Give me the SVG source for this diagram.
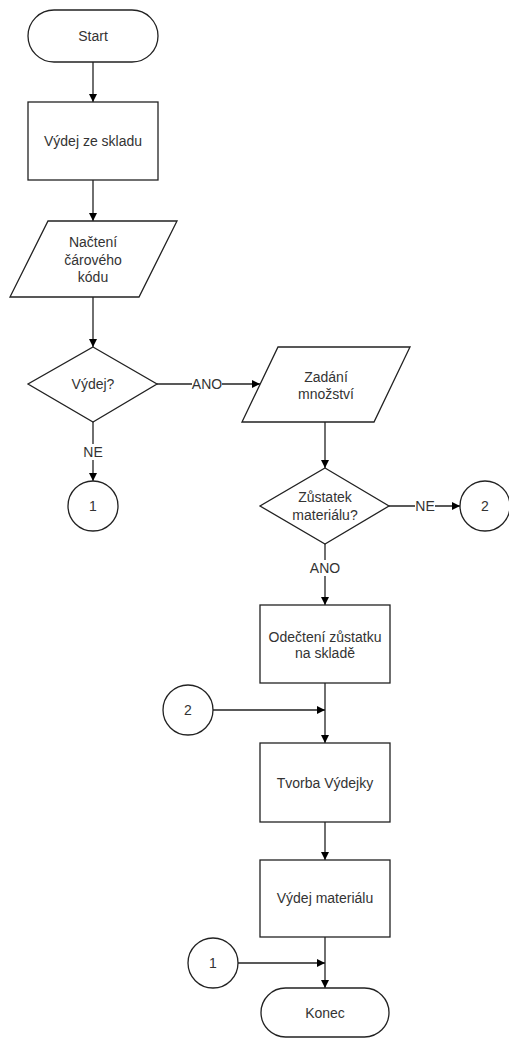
<svg xmlns="http://www.w3.org/2000/svg" width="509" height="1039" viewBox="0 0 509 1039">
<defs>
<marker id="arr" viewBox="0 0 10 10" refX="10" refY="5" markerWidth="9" markerHeight="8" markerUnits="userSpaceOnUse" orient="auto">
<path d="M0,0 L10,5 L0,10 Z" fill="#000"/>
</marker>
<style>
.s{fill:#fff;stroke:#222;stroke-width:1.3}
.t{font-family:"Liberation Sans",Arial,sans-serif;font-size:14px;fill:#333;text-anchor:middle}
.c{fill:none;stroke:#222;stroke-width:1.3}
.lb{fill:#fff;stroke:none}
</style>
</defs>
<rect width="509" height="1039" fill="#fff"/>
<g id="connectors">
<path class="c" d="M93,62 V102" marker-end="url(#arr)"/>
<path class="c" d="M93,180 V221" marker-end="url(#arr)"/>
<path class="c" d="M93,297 V347" marker-end="url(#arr)"/>
<path class="c" d="M157,384 H260" marker-end="url(#arr)"/>
<rect class="lb" x="192" y="376" width="30" height="16"/>
<text class="t" x="207" y="389">ANO</text>
<path class="c" d="M93,422 V481" marker-end="url(#arr)"/>
<rect class="lb" x="83" y="444" width="20" height="16"/>
<text class="t" x="93" y="457">NE</text>
<path class="c" d="M325,422 V468" marker-end="url(#arr)"/>
<path class="c" d="M389,506 H460" marker-end="url(#arr)"/>
<rect class="lb" x="415" y="498" width="20" height="16"/>
<text class="t" x="425" y="511">NE</text>
<path class="c" d="M325,544 V605" marker-end="url(#arr)"/>
<rect class="lb" x="310" y="560" width="30" height="16"/>
<text class="t" x="325" y="573">ANO</text>
<path class="c" d="M325,683 V743" marker-end="url(#arr)"/>
<path class="c" d="M213,710 H325" marker-end="url(#arr)"/>
<path class="c" d="M325,822 V860" marker-end="url(#arr)"/>
<path class="c" d="M325,937 V988" marker-end="url(#arr)"/>
<path class="c" d="M238,963 H325" marker-end="url(#arr)"/>
</g>
<g id="start">
<rect class="s" x="28" y="10" width="130" height="52" rx="26"/>
<text class="t" x="93" y="41">Start</text>
</g>
<g id="vydej-ze-skladu">
<rect class="s" x="28" y="102" width="130" height="78"/>
<text class="t" x="93" y="146">Výdej ze skladu</text>
</g>
<g id="nacteni">
<polygon class="s" points="48,221 177,221 139,297 10,297"/>
<text class="t" x="93" y="247">Načtení</text>
<text class="t" x="93" y="265">čárového</text>
<text class="t" x="93" y="282">kódu</text>
</g>
<g id="vydej-q">
<polygon class="s" points="93,347 157,384 93,422 28,384"/>
<text class="t" x="93" y="389">Výdej?</text>
</g>
<g id="c1-top">
<circle class="s" cx="93" cy="506" r="25"/>
<text class="t" x="93" y="511">1</text>
</g>
<g id="zadani">
<polygon class="s" points="278,347 410,347 374,422 242,422"/>
<text class="t" x="326" y="382">Zadání</text>
<text class="t" x="326" y="399">množství</text>
</g>
<g id="zustatek">
<polygon class="s" points="325,468 389,506 325,544 260,506"/>
<text class="t" x="325" y="502">Zůstatek</text>
<text class="t" x="325" y="520">materiálu?</text>
</g>
<g id="c2-right">
<circle class="s" cx="485" cy="506" r="25"/>
<text class="t" x="485" y="511">2</text>
</g>
<g id="odecteni">
<rect class="s" x="260" y="605" width="130" height="78"/>
<text class="t" x="325" y="642">Odečtení zůstatku</text>
<text class="t" x="325" y="658">na skladě</text>
</g>
<g id="c2-left">
<circle class="s" cx="188" cy="710" r="25"/>
<text class="t" x="188" y="715">2</text>
</g>
<g id="tvorba">
<rect class="s" x="260" y="743" width="130" height="79"/>
<text class="t" x="325" y="788">Tvorba Výdejky</text>
</g>
<g id="vydej-materialu">
<rect class="s" x="260" y="860" width="130" height="77"/>
<text class="t" x="325" y="903">Výdej materiálu</text>
</g>
<g id="c1-bottom">
<circle class="s" cx="213" cy="963" r="25"/>
<text class="t" x="213" y="968">1</text>
</g>
<g id="konec">
<rect class="s" x="261" y="988" width="128" height="49" rx="24.5"/>
<text class="t" x="325" y="1018">Konec</text>
</g>
</svg>
